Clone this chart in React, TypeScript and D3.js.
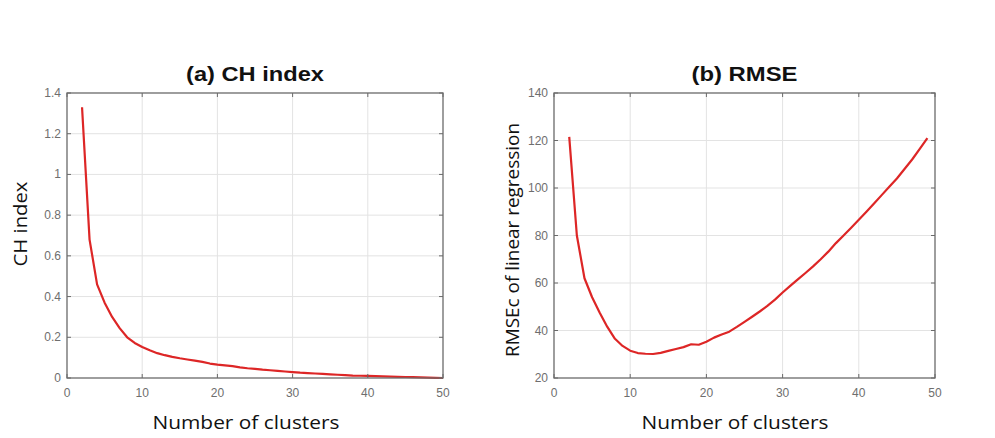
import React, { useRef, useEffect } from "react";
import * as d3 from "d3";

// number of clusters (x) and values
const chClusters = [2, 3, 4, 5, 6, 7, 8, 9, 10, 11, 12, 13, 14, 15, 16, 17, 18, 19, 20, 21, 22, 23, 24, 25, 26, 27, 28, 29, 30, 31, 32, 33, 34, 35, 36, 37, 38, 39, 40, 41, 42, 43, 44, 45, 46, 47, 48, 49, 50];
const chValues = [1.33, 0.68, 0.46, 0.37, 0.3, 0.245, 0.2, 0.172, 0.152, 0.136, 0.122, 0.112, 0.104, 0.097, 0.091, 0.085, 0.079, 0.071, 0.066, 0.062, 0.058, 0.052, 0.048, 0.045, 0.041, 0.038, 0.035, 0.032, 0.029, 0.026, 0.024, 0.022, 0.02, 0.018, 0.016, 0.014, 0.012, 0.011, 0.01, 0.009, 0.008, 0.007, 0.006, 0.005, 0.004, 0.003, 0.002, 0.001, 0.0];

const rmseClusters = [2, 3, 4, 5, 6, 7, 8, 9, 10, 11, 12, 13, 14, 15, 16, 17, 18, 19, 20, 21, 22, 23, 24, 25, 26, 27, 28, 29, 30, 31, 32, 33, 34, 35, 36, 37, 38, 39, 40, 41, 42, 43, 44, 45, 46, 47, 48, 49];
const rmseValues = [121.5, 80, 62, 54, 47.5, 41.5, 36.5, 33.5, 31.5, 30.5, 30.2, 30.1, 30.6, 31.4, 32.2, 33, 34.2, 34, 35.3, 37, 38.3, 39.5, 41.5, 43.6, 45.8, 48, 50.4, 53, 56, 58.8, 61.5, 64.2, 67, 70, 73.2, 76.8, 80, 83.3, 86.6, 90, 93.5, 97, 100.5, 104, 108, 112, 116.5, 121];

const xTicks = [0, 10, 20, 30, 40, 50];
const chTicks = [0, 0.2, 0.4, 0.6, 0.8, 1, 1.2, 1.4];
const rmseTicks = [20, 40, 60, 80, 100, 120, 140];

const TICK_FONT = "'Liberation Sans', Arial, sans-serif";
const LABEL_FONT = "'Open Sans', 'Noto Sans', sans-serif";

function drawPanel(root, o) {
  const x = d3.scaleLinear().domain([0, 50]).range([o.left, o.right]);
  const y = d3.scaleLinear().domain(o.yDomain).range([o.bottom, o.top]);
  const g = root.append("g");

  // grid
  g.selectAll(".gx")
    .data(xTicks.slice(1, -1))
    .enter()
    .append("line")
    .attr("x1", (d) => x(d))
    .attr("x2", (d) => x(d))
    .attr("y1", o.top)
    .attr("y2", o.bottom)
    .attr("stroke", "#e3e3e3")
    .attr("stroke-width", 1);
  g.selectAll(".gy")
    .data(o.yTicks.slice(1, -1))
    .enter()
    .append("line")
    .attr("x1", o.left)
    .attr("x2", o.right)
    .attr("y1", (d) => y(d))
    .attr("y2", (d) => y(d))
    .attr("stroke", "#e3e3e3")
    .attr("stroke-width", 1);

  // line
  const line = d3
    .line()
    .x((d) => x(d[0]))
    .y((d) => y(d[1]));
  g.append("path")
    .attr("d", line(o.xs.map((v, i) => [v, o.ys[i]])))
    .attr("fill", "none")
    .attr("stroke", "#dd2626")
    .attr("stroke-width", 2.2)
    .attr("stroke-linejoin", "round");

  // box
  g.append("rect")
    .attr("x", o.left)
    .attr("y", o.top)
    .attr("width", o.right - o.left)
    .attr("height", o.bottom - o.top)
    .attr("fill", "none")
    .attr("stroke", "#6a6a6a")
    .attr("stroke-width", 1.3);

  // inward ticks on all four sides
  const tl = 4;
  xTicks.forEach((t) => {
    g.append("line").attr("x1", x(t)).attr("x2", x(t)).attr("y1", o.bottom).attr("y2", o.bottom - tl).attr("stroke", "#6a6a6a");
    g.append("line").attr("x1", x(t)).attr("x2", x(t)).attr("y1", o.top).attr("y2", o.top + tl).attr("stroke", "#6a6a6a");
    g.append("text")
      .attr("x", x(t))
      .attr("y", o.bottom + 19)
      .attr("text-anchor", "middle")
      .attr("font-family", TICK_FONT)
      .attr("font-size", 12)
      .attr("fill", "#6e6e6e")
      .text(String(t));
  });
  o.yTicks.forEach((t) => {
    g.append("line").attr("x1", o.left).attr("x2", o.left + tl).attr("y1", y(t)).attr("y2", y(t)).attr("stroke", "#6a6a6a");
    g.append("line").attr("x1", o.right).attr("x2", o.right - tl).attr("y1", y(t)).attr("y2", y(t)).attr("stroke", "#6a6a6a");
    g.append("text")
      .attr("x", o.left - 6)
      .attr("y", y(t) + 4)
      .attr("text-anchor", "end")
      .attr("font-family", TICK_FONT)
      .attr("font-size", 12)
      .attr("fill", "#6e6e6e")
      .text(String(t));
  });

  // title
  g.append("text")
    .attr("x", (o.left + o.right) / 2)
    .attr("y", 81)
    .attr("text-anchor", "middle")
    .attr("font-family", TICK_FONT)
    .attr("font-weight", "bold")
    .attr("font-size", 21)
    .attr("fill", "#111")
    .attr("textLength", o.titleLen)
    .attr("lengthAdjust", "spacingAndGlyphs")
    .text(o.title);

  // x label
  g.append("text")
    .attr("x", o.xLabelX)
    .attr("y", 429)
    .attr("text-anchor", "middle")
    .attr("font-family", LABEL_FONT)
    .attr("font-size", 19)
    .attr("fill", "#111")
    .attr("textLength", 187)
    .attr("lengthAdjust", "spacingAndGlyphs")
    .text("Number of clusters");

  // y label
  g.append("text")
    .attr("transform", `translate(${o.yLabelX},${o.yLabelY}) rotate(-90)`)
    .attr("text-anchor", "middle")
    .attr("font-family", LABEL_FONT)
    .attr("font-size", 19)
    .attr("fill", "#111")
    .attr("textLength", o.yLabelLen)
    .attr("lengthAdjust", "spacingAndGlyphs")
    .text(o.yLabel);
}

export default function App() {
  const ref = useRef(null);
  useEffect(() => {
    const root = d3.select(ref.current);
    root.selectAll("*").remove();

    drawPanel(root, {
      left: 67,
      right: 443,
      top: 93,
      bottom: 378,
      yDomain: [0, 1.4],
      yTicks: chTicks,
      xs: chClusters,
      ys: chValues,
      title: "(a) CH index",
      titleLen: 138,
      xLabelX: 246,
      yLabel: "CH index",
      yLabelLen: 85,
      yLabelX: 27,
      yLabelY: 224,
    });

    drawPanel(root, {
      left: 554,
      right: 935,
      top: 93,
      bottom: 378,
      yDomain: [20, 140],
      yTicks: rmseTicks,
      xs: rmseClusters,
      ys: rmseValues,
      title: "(b) RMSE",
      titleLen: 106,
      xLabelX: 735,
      yLabel: "RMSEc of linear regression",
      yLabelLen: 234,
      yLabelX: 519,
      yLabelY: 240,
    });
  }, []);

  return (
    <svg
      ref={ref}
      width={995}
      height={438}
      style={{ position: "absolute", left: 0, top: 0, background: "#fff" }}
    />
  );
}
